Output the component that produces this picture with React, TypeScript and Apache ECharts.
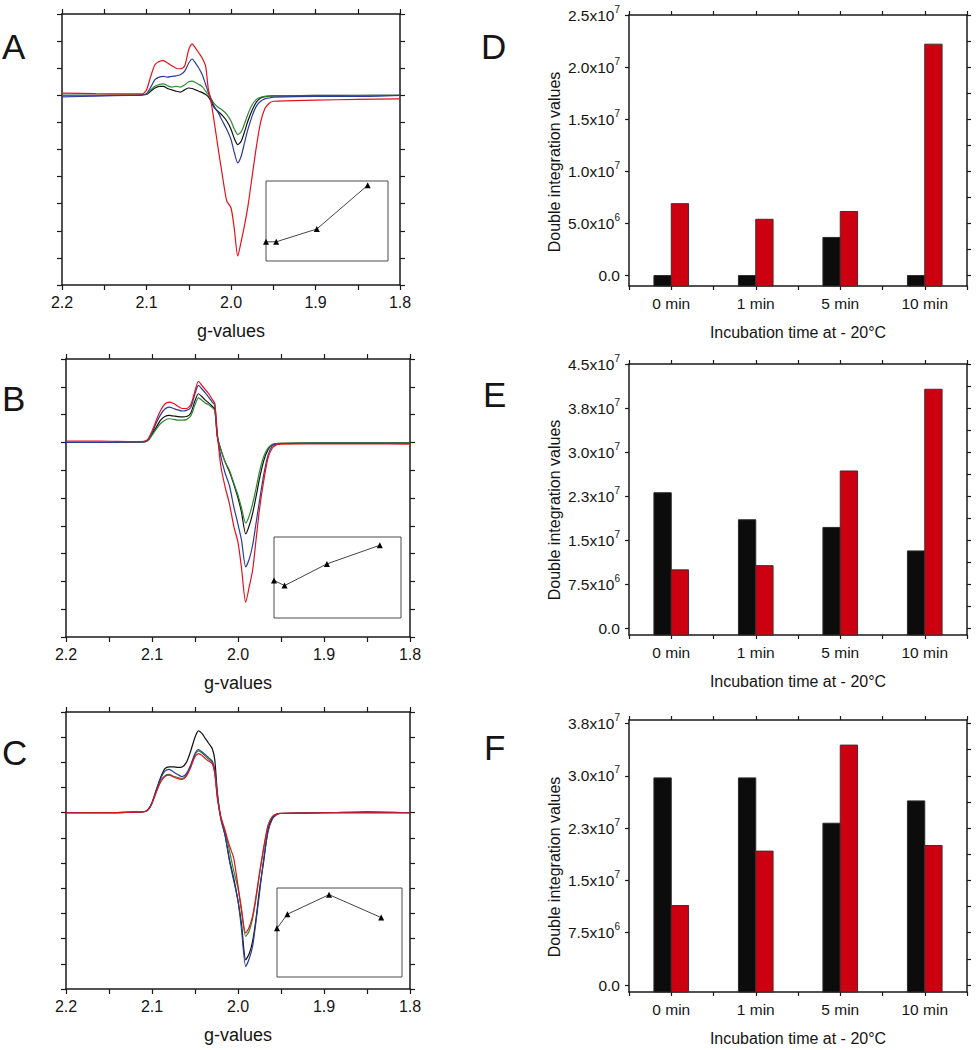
import React, { useEffect, useRef } from 'react';
import * as echarts from 'echarts';

const FONT = '"Liberation Sans", Arial, Helvetica, sans-serif';
const AX = '#1a1a1a';
const TXT = '#151515';

// ---------- EPR spectra (g-values, arbitrary intensity) ----------
const gA = [2.2, 2.16, 2.12, 2.105, 2.1, 2.095, 2.09, 2.085, 2.08, 2.075, 2.07, 2.065, 2.06, 2.055, 2.05, 2.046, 2.042, 2.038, 2.034, 2.03, 2.027, 2.024, 2.02, 2.015, 2.01, 2.005, 2.0, 1.996, 1.992, 1.988, 1.984, 1.98, 1.975, 1.97, 1.965, 1.96, 1.955, 1.95, 1.9, 1.85, 1.8];
const aBlack = [0, 0, 0, 0.01, 0.03, 0.15, 0.27, 0.33, 0.33, 0.25, 0.2, 0.15, 0.12, 0.2, 0.27, 0.25, 0.2, 0.15, 0.1, 0.03, -0.05, -0.2, -0.45, -0.6, -0.75, -0.95, -1.25, -1.6, -1.82, -1.7, -1.35, -0.95, -0.55, -0.25, -0.1, -0.05, -0.03, -0.02, 0, 0, 0];
const aGreen = [0, 0, 0.01, 0.02, 0.05, 0.2, 0.33, 0.4, 0.42, 0.35, 0.3, 0.33, 0.3, 0.38, 0.5, 0.52, 0.47, 0.4, 0.32, 0.15, 0.03, -0.1, -0.3, -0.45, -0.55, -0.7, -0.95, -1.25, -1.45, -1.35, -1.05, -0.7, -0.35, -0.15, -0.07, -0.04, -0.03, -0.02, -0.02, -0.01, 0];
const aBlue = [-0.06, -0.03, 0, 0.02, 0.06, 0.3, 0.58, 0.67, 0.7, 0.67, 0.7, 0.72, 0.76, 0.88, 1.19, 1.34, 1.19, 1.0, 0.76, 0.4, 0.12, -0.1, -0.4, -0.65, -0.96, -1.26, -1.63, -2.12, -2.49, -2.25, -1.75, -1.26, -0.77, -0.4, -0.22, -0.13, -0.1, -0.07, -0.04, -0.04, 0];
const aRed = [0.08, 0.06, 0.05, 0.05, 0.2, 0.7, 1.13, 1.25, 1.28, 1.19, 1.09, 1.0, 0.98, 1.07, 1.68, 1.9, 1.74, 1.56, 1.37, 1.07, 0.27, -0.16, -0.95, -2.0, -3.0, -3.9, -4.15, -4.95, -5.93, -5.4, -4.8, -4.1, -3.0, -1.9, -1.0, -0.5, -0.3, -0.22, -0.18, -0.15, -0.13];

const gBC = [2.2, 2.16, 2.12, 2.108, 2.104, 2.1, 2.095, 2.09, 2.085, 2.08, 2.075, 2.07, 2.065, 2.06, 2.055, 2.05, 2.046, 2.042, 2.038, 2.034, 2.03, 2.027, 2.024, 2.02, 2.015, 2.01, 2.005, 2.0, 1.996, 1.991, 1.987, 1.983, 1.979, 1.975, 1.97, 1.965, 1.96, 1.955, 1.95, 1.9, 1.85, 1.8];
const bBlack = [0, 0, 0.01, 0.03, 0.1, 0.3, 0.55, 0.8, 0.93, 0.97, 0.95, 0.93, 0.92, 0.93, 1.05, 1.5, 1.75, 1.65, 1.52, 1.42, 1.3, 1.2, 0.2, -0.25, -0.7, -1.05, -1.5, -2.0, -2.5, -3.29, -3.0, -2.55, -1.95, -1.3, -0.65, -0.25, -0.08, -0.04, -0.03, -0.02, -0.02, -0.02];
const bGreen = [0, 0, 0.01, 0.02, 0.08, 0.25, 0.48, 0.68, 0.8, 0.85, 0.83, 0.8, 0.8, 0.82, 0.95, 1.35, 1.6, 1.52, 1.42, 1.35, 1.25, 1.15, 0.2, -0.25, -0.7, -1.0, -1.45, -1.9, -2.35, -2.9, -2.65, -2.2, -1.65, -1.05, -0.5, -0.2, -0.07, -0.04, -0.03, -0.02, -0.02, -0.02];
const bBlue = [0, 0, 0.02, 0.04, 0.12, 0.35, 0.7, 1.0, 1.2, 1.27, 1.22, 1.17, 1.13, 1.15, 1.25, 1.75, 2.05, 1.92, 1.78, 1.62, 1.45, 1.35, 0.25, -0.5, -1.1, -1.55, -2.3, -2.95, -3.5, -4.48, -4.2, -3.7, -2.9, -2.1, -1.15, -0.45, -0.12, -0.06, -0.04, -0.03, -0.03, -0.03];
const bRed = [0.05, 0.05, 0.03, 0.05, 0.15, 0.4, 0.8, 1.15, 1.38, 1.45, 1.4, 1.3, 1.22, 1.22, 1.35, 1.85, 2.2, 2.05, 1.9, 1.75, 1.55, 1.4, 0.3, -0.85, -1.6, -2.2, -3.0, -3.6, -4.5, -5.75, -5.2, -4.6, -3.5, -2.4, -1.37, -0.55, -0.2, -0.08, -0.06, -0.05, -0.05, -0.06];

const cBlack = [0, 0, 0.02, 0.05, 0.15, 0.4, 0.9, 1.4, 1.75, 1.82, 1.82, 1.8, 1.82, 2.0, 2.45, 3.0, 3.25, 3.15, 2.95, 2.75, 2.55, 2.1, 0.8, -0.2, -0.9, -1.85, -2.6, -3.5, -4.4, -5.84, -5.6, -5.1, -4.2, -3.05, -1.9, -0.65, -0.2, -0.05, -0.03, 0, 0.03, 0];
const cGreen = [0, 0, 0.02, 0.05, 0.13, 0.38, 0.85, 1.25, 1.47, 1.52, 1.45, 1.4, 1.36, 1.5, 1.85, 2.3, 2.46, 2.38, 2.25, 2.12, 2.0, 1.6, 0.6, -0.2, -0.75, -1.5, -2.3, -3.0, -3.9, -4.91, -4.7, -4.2, -3.4, -2.45, -1.4, -0.5, -0.15, -0.05, -0.02, 0, 0, 0];
const cBlue = [0, 0, 0.02, 0.05, 0.15, 0.4, 0.9, 1.35, 1.65, 1.72, 1.62, 1.52, 1.43, 1.55, 1.9, 2.35, 2.51, 2.42, 2.3, 2.18, 2.05, 1.7, 0.7, -0.25, -0.9, -1.9, -2.7, -3.5, -4.6, -6.1, -5.8, -5.3, -4.3, -3.2, -1.8, -0.75, -0.25, -0.08, -0.03, 0, 0, 0];
const cRed = [0, 0, 0.02, 0.05, 0.13, 0.38, 0.82, 1.22, 1.44, 1.49, 1.42, 1.36, 1.32, 1.45, 1.8, 2.22, 2.35, 2.28, 2.15, 2.05, 1.95, 1.55, 0.6, -0.15, -0.7, -1.3, -1.8, -2.9, -3.8, -4.78, -4.55, -4.1, -3.3, -2.4, -1.35, -0.5, -0.15, -0.05, -0.02, 0, 0, 0];

// ---------- insets ----------
const insetTimes = [0, 1, 5, 10];
const insetA = [0.24, 0.24, 0.4, 0.946];
const insetB = [0.463, 0.4, 0.668, 0.898];
const insetC = [0.547, 0.706, 0.925, 0.668];

// ---------- bar charts ----------
const times = ['0 min', '1 min', '5 min', '10 min'];
const dBlack = [0, 0, 3.66e6, 0];
const dRed = [6.9e6, 5.4e6, 6.15e6, 2.22e7];
const eBlack = [2.31e7, 1.85e7, 1.72e7, 1.32e7];
const eRed = [9.98e6, 1.07e7, 2.68e7, 4.07e7];
const fBlack = [2.97e7, 2.97e7, 2.32e7, 2.64e7];
const fRed = [1.14e7, 1.92e7, 3.44e7, 2.0e7];
const dTicks = [0, 5e6, 1e7, 1.5e7, 2e7, 2.5e7];
const dMinor = [0, 2.5e6, 5e6, 7.5e6, 1e7, 1.25e7, 1.5e7, 1.75e7, 2e7, 2.25e7, 2.5e7];
const eTicks = [0, 7.5e6, 1.5e7, 2.25e7, 3e7, 3.75e7, 4.5e7];
const eMinor = [0, 3.75e6, 7.5e6, 1.125e7, 1.5e7, 1.875e7, 2.25e7, 2.625e7, 3e7, 3.375e7, 3.75e7, 4.125e7, 4.5e7];
const fTicks = [0, 7.5e6, 1.5e7, 2.25e7, 3e7, 3.75e7];
const fMinor = [0, 3.75e6, 7.5e6, 1.125e7, 1.5e7, 1.875e7, 2.25e7, 2.625e7, 3e7, 3.375e7, 3.75e7];

const COLORS = { black: '#111111', green: '#2f8a2f', blue: '#2b3b9a', red: '#e3121b' };
const BAR_BLACK = '#0c0c0c';
const BAR_RED = '#cc0011';

function sciFmt(v: number) {
  if (Math.abs(v) < 1) return '0.0';
  const e = Math.floor(Math.log10(Math.abs(v)) + 1e-9);
  const m = v / Math.pow(10, e);
  return `{b|${m.toFixed(1)}x10}{s|${e}}`;
}

function gFmt(v: number) {
  const r = Math.round(v * 100);
  return r % 10 === 0 ? (r / 100).toFixed(1) : '';
}

export default function App() {
  const ref = useRef<HTMLDivElement>(null);
  useEffect(() => {
    if (!ref.current) return;
    const chart = echarts.init(ref.current, null, { renderer: 'svg' });

    const grids: any[] = [
      { left: 62, top: 14, width: 338, height: 271 },
      { left: 66, top: 359, width: 344, height: 278 },
      { left: 66, top: 712, width: 344, height: 277 },
      { left: 629, top: 15, width: 338, height: 271 },
      { left: 629, top: 364, width: 338, height: 271 },
      { left: 629, top: 720, width: 338, height: 272 },
      { left: 266, top: 181, width: 122, height: 80, show: true, borderColor: '#4a4a4a', borderWidth: 1 },
      { left: 274, top: 537, width: 127, height: 81, show: true, borderColor: '#4a4a4a', borderWidth: 1 },
      { left: 277, top: 888, width: 125, height: 89, show: true, borderColor: '#4a4a4a', borderWidth: 1 },
    ];

    const xAxes: any[] = [];
    const yAxes: any[] = [];
    const series: any[] = [];
    const line = { show: true, onZero: false, lineStyle: { color: AX, width: 1.5 } };
    const tick = (len: number) => ({ show: true, inside: false, length: len, lineStyle: { color: AX, width: 1.2 } });

    const spectra = [
      { g: gA, ys: [aBlack, aGreen, aBlue, aRed], ymax: 3 },
      { g: gBC, ys: [bBlack, bGreen, bBlue, bRed], ymax: 3 },
      { g: gBC, ys: [cBlack, cGreen, cBlue, cRed], ymax: 4 },
    ];
    const lineColors = [COLORS.black, COLORS.green, COLORS.blue, COLORS.red];
    spectra.forEach((sp, p) => {
      const xi = xAxes.length;
      const xBase = {
        type: 'value', gridIndex: p, min: 1.8, max: 2.2, inverse: true, interval: 0.05,
        axisLine: line, axisTick: tick(5), splitLine: { show: false },
      };
      xAxes.push({
        ...xBase, position: 'bottom',
        axisLabel: { show: true, margin: 9, fontSize: 16, fontFamily: FONT, color: TXT, formatter: gFmt, showMinLabel: true, showMaxLabel: true },
        name: 'g-values', nameLocation: 'middle', nameGap: 37,
        nameTextStyle: { fontSize: 18, fontFamily: FONT, color: TXT },
      });
      xAxes.push({ ...xBase, position: 'top', axisLabel: { show: false } });
      const yi = yAxes.length;
      const yBase = {
        type: 'value', gridIndex: p, min: -7, max: sp.ymax, interval: 1,
        axisLine: line, axisTick: tick(5), axisLabel: { show: false }, splitLine: { show: false },
      };
      yAxes.push({ ...yBase, position: 'left' });
      yAxes.push({ ...yBase, position: 'right' });
      sp.ys.forEach((ys, k) => {
        series.push({
          type: 'line', xAxisIndex: xi, yAxisIndex: yi, showSymbol: false, smooth: 0.25,
          data: sp.g.map((g, i) => [g, ys[i]]),
          lineStyle: { color: lineColors[k], width: 1.2 }, itemStyle: { color: lineColors[k] },
          z: 2 + k,
        });
      });
    });

    const bars = [
      { black: dBlack, red: dRed, min: -1e6, max: 2.5e7, ticks: dTicks, minor: dMinor },
      { black: eBlack, red: eRed, min: -1.1e6, max: 4.5e7, ticks: eTicks, minor: eMinor },
      { black: fBlack, red: fRed, min: -1e6, max: 3.8e7, ticks: fTicks, minor: fMinor },
    ];
    bars.forEach((b, k) => {
      const p = 3 + k;
      const xi = xAxes.length;
      xAxes.push({
        type: 'category', gridIndex: p, data: times, position: 'bottom',
        axisLine: line, axisTick: { show: false },
        axisLabel: { margin: 9, fontSize: 15.5, fontFamily: FONT, color: TXT },
        name: 'Incubation time at - 20°C', nameLocation: 'middle', nameGap: 38,
        nameTextStyle: { fontSize: 16, fontFamily: FONT, color: TXT },
      });
      const tickAxis = {
        type: 'value', gridIndex: p, min: -0.5, max: 3.5, interval: 0.5,
        axisTick: tick(4), axisLabel: { show: false }, splitLine: { show: false },
      };
      xAxes.push({ ...tickAxis, position: 'bottom', axisLine: { show: false, onZero: false } });
      xAxes.push({ ...tickAxis, position: 'top', axisLine: line });
      const yi = yAxes.length;
      yAxes.push({
        type: 'value', gridIndex: p, min: b.min, max: b.max, position: 'left',
        axisLine: line, axisTick: { ...tick(4), customValues: b.ticks },
        axisLabel: {
          customValues: b.ticks, formatter: sciFmt, margin: 9, fontSize: 15.5, fontFamily: FONT, color: TXT,
          rich: {
            b: { fontSize: 15.5, fontFamily: FONT, color: TXT, lineHeight: 22 },
            s: { fontSize: 10, fontFamily: FONT, color: TXT, verticalAlign: 'top', lineHeight: 22 },
          },
        },
        splitLine: { show: false },
      });
      yAxes.push({
        type: 'value', gridIndex: p, min: b.min, max: b.max, position: 'right',
        axisLine: line, axisTick: { ...tick(4), customValues: b.minor },
        axisLabel: { show: false }, splitLine: { show: false },
      });
      const mk = (vals: number[], side: number, fill: string, stroke: string) => ({
        type: 'custom', xAxisIndex: xi, yAxisIndex: yi,
        data: vals.map((v, i) => [i, v]),
        encode: { x: 0, y: 1 },
        renderItem: (params: any, api: any) => {
          const i = api.value(0);
          const v = api.value(1);
          const top = api.coord([i, v]);
          const base = api.coord([i, b.min]);
          const w = api.size([1, 0])[0] * 0.205;
          const x = side < 0 ? top[0] - w : top[0];
          return {
            type: 'rect',
            shape: { x, y: top[1], width: w, height: base[1] - top[1] },
            style: { fill, stroke, lineWidth: 1 },
          };
        },
      });
      series.push(mk(b.black, -1, BAR_BLACK, '#2a2a2a'));
      series.push(mk(b.red, 1, BAR_RED, '#4a2a2a'));
    });

    [insetA, insetB, insetC].forEach((vals, k) => {
      const p = 6 + k;
      const xi = xAxes.length;
      xAxes.push({ type: 'value', gridIndex: p, min: 0, max: 12, show: false });
      const yi = yAxes.length;
      yAxes.push({ type: 'value', gridIndex: p, min: 0, max: 1, show: false });
      series.push({
        type: 'line', xAxisIndex: xi, yAxisIndex: yi, clip: false,
        data: insetTimes.map((t, i) => [t, vals[i]]),
        symbol: 'triangle', symbolSize: 6, showAllSymbol: true,
        lineStyle: { color: '#444', width: 1 }, itemStyle: { color: '#000' },
        z: 10,
      });
    });

    const letter = (text: string, left: number, top: number) => ({
      text, left, top, padding: 0,
      textStyle: { fontSize: 35, fontWeight: 'normal', fontFamily: FONT, color: TXT },
    });

    const yTitle = (y: number) => ({
      type: 'text', x: 554, y, rotation: Math.PI / 2,
      style: { text: 'Double integration values', fontSize: 16, fontFamily: FONT, fill: TXT, align: 'center', verticalAlign: 'middle' },
    });

    chart.setOption({
      animation: false,
      backgroundColor: '#ffffff',
      title: [
        letter('A', 2, 29), letter('B', 2, 381), letter('C', 2, 735),
        letter('D', 481, 29), letter('E', 483, 377), letter('F', 484, 730),
      ],
      grid: grids,
      xAxis: xAxes,
      yAxis: yAxes,
      series,
      graphic: [yTitle(162), yTitle(510), yTitle(867)],
    });
    return () => chart.dispose();
  }, []);

  return <div ref={ref} style={{ position: 'absolute', left: 0, top: 0, width: 978, height: 1050 }} />;
}
